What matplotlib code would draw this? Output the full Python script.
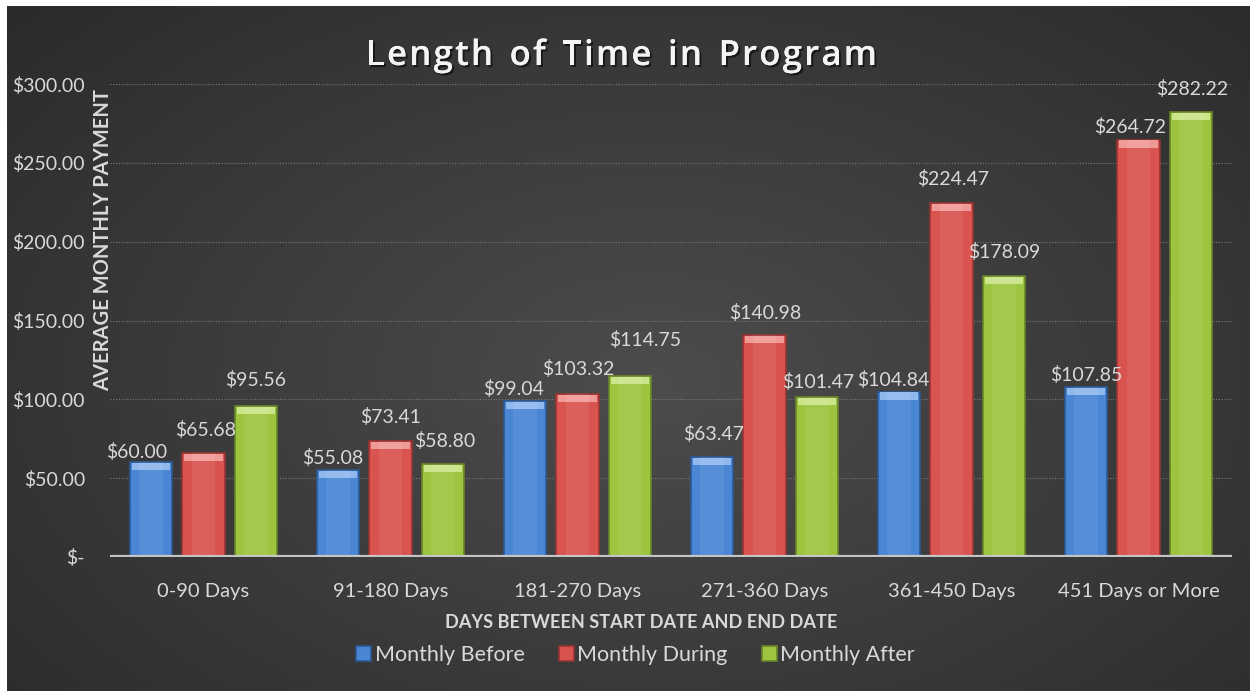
import numpy as np
import matplotlib
matplotlib.use("Agg")
import matplotlib.pyplot as plt
import matplotlib.patheffects as pe
from matplotlib.ticker import FuncFormatter

categories = ["0-90 Days", "91-180 Days", "181-270 Days", "271-360 Days",
              "361-450 Days", "451 Days or More"]
monthly_before = [60.00, 55.08, 99.04, 63.47, 104.84, 107.85]
monthly_during = [65.68, 73.41, 103.32, 140.98, 224.47, 264.72]
monthly_after = [95.56, 58.80, 114.75, 101.47, 178.09, 282.22]
series_names = ["Monthly Before", "Monthly During", "Monthly After"]
y_ticks = [0, 50, 100, 150, 200, 250, 300]

# hand-placed data label nudges (pixels), as in the original chart
label_dx = [[-14, -5, -11, 2, -6, 0], [2, 0, 1, 1, 2, -8], [0, 2, 15, 1, 0, 1]]
label_dy = [[10, 12, 12, 23, 12, 12], [23, 24, 25, 22, 24, 13], [26, 23, 36, 15, 24, 23]]

plt.rcParams["font.family"] = ["Lato", "DejaVu Sans"]
TEXT = "#d9d9d9"
W, H = 1250, 691

fig = plt.figure(figsize=(12.5, 6.91), dpi=100)
fig.patch.set_facecolor("white")

# dark background with a soft lighter centre, thin white margin top/left
bg = fig.add_axes([7 / W, 0, 1 - 7 / W, 1 - 6 / H])
yy, xx = np.mgrid[0:1:300j, 0:1:500j]
dist = np.sqrt(((xx - 0.52) / 0.75) ** 2 + ((yy - 0.45) / 0.85) ** 2)
shade = np.clip(0.30 - 0.14 * dist, 0.15, 0.30)
bg.imshow(np.dstack([shade] * 3), aspect="auto", extent=[0, 1, 0, 1], origin="lower")
bg.set_axis_off()

ax = fig.add_axes([110 / W, 1 - 557 / H, 1122 / W, 473 / H])
ax.patch.set_alpha(0)

x = np.arange(len(categories))
width = 0.225
step = 0.281
colors = ["#4a86d4", "#d9534f", "#9dc43f"]
tops = ["#8fb8ec", "#f09a97", "#cbe58a"]
edges = ["#2c5a94", "#973432", "#67852a"]

for i, (vals, name) in enumerate(zip([monthly_before, monthly_during, monthly_after], series_names)):
    pos = x + (i - 1) * step
    ax.bar(pos, vals, width, color=colors[i], edgecolor=edges[i], linewidth=1.2,
           label=name, zorder=3)
    ax.bar(pos, [4.5] * len(vals), width * 0.92, bottom=np.array(vals) - 5,
           color=tops[i], linewidth=0, zorder=4)
    ax.bar(pos, vals, width * 0.55, color="white", alpha=0.07, linewidth=0, zorder=4)
    for j, (px, v) in enumerate(zip(pos, vals)):
        ax.annotate(f"${v:.2f}", (px, v), xytext=(label_dx[i][j], label_dy[i][j]),
                    textcoords="offset pixels", ha="center", va="center",
                    color=TEXT, fontsize=14, zorder=5)

ax.set_xlim(-0.5, 5.5)
ax.set_ylim(0, 300)
ax.set_yticks(y_ticks)
ax.yaxis.set_major_formatter(FuncFormatter(lambda v, p: "$-" if v == 0 else f"${v:,.2f}"))
ax.set_xticks(x)
ax.set_xticklabels(categories)
ax.tick_params(axis="both", length=0, colors=TEXT, labelsize=14)
ax.tick_params(axis="x", labelsize=14.5, pad=19)
ax.tick_params(axis="y", pad=18)

ax.grid(axis="y", color="#7a7a7a", linestyle=(0, (1, 1.5)), linewidth=0.8, zorder=0)
ax.axhline(0, color="#c8c8c8", linewidth=3, zorder=6)
ax.axhline(0, color="#8a8a8a", linewidth=1, linestyle=(0, (1.5, 1.5)), zorder=7)
for s in ax.spines.values():
    s.set_visible(False)

fig.text(103 / W, 1 - 240 / H, "AVERAGE MONTHLY PAYMENT", rotation=90,
         ha="center", va="center", color=TEXT, fontsize=14.5, fontweight="bold")
fig.text(641 / W, 1 - 622 / H, "DAYS BETWEEN START DATE AND END DATE", ha="center",
         va="center", color=TEXT, fontsize=13.1, fontweight="bold")

# letter-spaced title, placed one glyph at a time on a shared baseline
title = "Length of Time in Program"
t_left, t_right, t_base = 366, 877, 1 - 65 / H
renderer = fig.canvas.get_renderer()
tprops = dict(fontsize=25, fontweight="semibold", family=["Open Sans", "DejaVu Sans"],
              color="#f4f4f4", va="baseline", ha="left")
glyph_w = []
for ch in title:
    t = fig.text(0, 0, ch if ch != " " else "n", **tprops)
    w = t.get_window_extent(renderer).width
    glyph_w.append(w * (0.55 if ch == " " else 1.0))
    t.remove()
tracking = max(0.0, (t_right - t_left - sum(glyph_w)) / (len(title) - 1))
cx = t_left
for ch, w in zip(title, glyph_w):
    if ch != " ":
        t = fig.text(cx / W, t_base, ch, **tprops)
        t.set_path_effects([pe.withSimplePatchShadow(offset=(1.5, -1.5), shadow_rgbFace="black",
                                                     alpha=0.55),
                            pe.Normal()])
    cx += w + tracking

leg = ax.legend(loc="center", bbox_to_anchor=(((352 + 919) / 2 - 110) / 1122,
                                              (557 - 655) / 473),
                ncol=3, frameon=False, fontsize=15.5, handlelength=0.7, handleheight=0.7,
                handletextpad=0.15, columnspacing=1.6, labelcolor=TEXT)

fig.savefig("out.png", dpi=100, facecolor=fig.get_facecolor())
